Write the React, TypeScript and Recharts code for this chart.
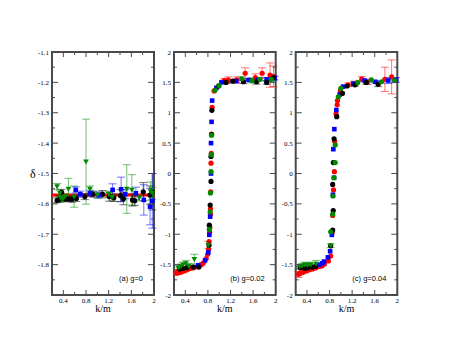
import React from "react";
import { ScatterChart, Scatter, XAxis, YAxis, ErrorBar, ReferenceArea, ReferenceLine } from "recharts";

type Pt = [number, number, number]; // [k/m, delta, error]

const RED = "#ff0000";
const BLACK = "#000000";
const BLUE = "#0000ff";
const GREEN = "#008a00";
const FRAME = "#4a4a4a";

// axis ticks
const xTicks = [0.4, 0.6, 0.8, 1.0, 1.2, 1.4, 1.6, 1.8, 2.0];
const xLabels = [0.4, 0.8, 1.2, 1.6, 2];
const aYTicks = [-1.85, -1.8, -1.75, -1.7, -1.65, -1.6, -1.55, -1.5, -1.45, -1.4, -1.35, -1.3, -1.25, -1.2, -1.15, -1.1];
const aYLabels = [-1.8, -1.7, -1.6, -1.5, -1.4, -1.3, -1.2, -1.1];
const bcYTicks = [-2, -1.75, -1.5, -1.25, -1, -0.75, -0.5, -0.25, 0, 0.25, 0.5, 0.75, 1, 1.25, 1.5, 1.75, 2];
const bcYLabels = [-2, -1.5, -1, -0.5, 0, 0.5, 1, 1.5, 2];

// (a) g=0
const aLine = -1.571;
const aBlack: Pt[] = [
  [0.29, -1.588, 0.008], [0.33, -1.585, 0.01], [0.37, -1.562, 0.01], [0.43, -1.584, 0.008], [0.49, -1.584, 0.008],
  [0.55, -1.585, 0.01], [0.63, -1.582, 0.01], [0.78, -1.576, 0.01], [0.92, -1.568, 0.01], [1.09, -1.568, 0.012],
  [1.21, -1.576, 0.015], [1.29, -1.58, 0.012], [1.41, -1.573, 0.02], [1.46, -1.583, 0.02], [1.62, -1.587, 0.02],
  [1.66, -1.59, 0.015], [1.81, -1.56, 0.03], [1.93, -1.571, 0.03], [1.97, -1.56, 0.06],
];
const aBlue: Pt[] = [
  [0.62, -1.554, 0.01], [0.7, -1.568, 0.01], [0.87, -1.565, 0.01], [1.02, -1.571, 0.01], [1.27, -1.554, 0.02],
  [1.42, -1.552, 0.04], [1.49, -1.568, 0.015], [1.68, -1.565, 0.02], [1.82, -1.587, 0.05], [1.93, -1.609, 0.06],
  [1.97, -1.59, 0.09],
];
const aGreen: Pt[] = [
  [0.29, -1.543, 0.01], [0.34, -1.565, 0.01], [0.35, -1.58, 0.01], [0.39, -1.584, 0.01], [0.43, -1.576, 0.01],
  [0.49, -1.551, 0.035], [0.59, -1.576, 0.035], [0.8, -1.461, 0.14], [0.87, -1.551, 0.01], [1.0, -1.571, 0.01],
  [1.2, -1.568, 0.01], [1.26, -1.578, 0.01], [1.52, -1.551, 0.08], [1.61, -1.554, 0.05], [1.74, -1.58, 0.01],
  [1.94, -1.558, 0.03], [1.97, -1.565, 0.02],
];

// (b) g=0.02
const bRed: Pt[] = [
  [0.25, -1.64, 0.03], [0.27, -1.61, 0.02], [0.29, -1.63, 0.02], [0.31, -1.6, 0.02], [0.33, -1.62, 0.02],
  [0.36, -1.59, 0.02], [0.39, -1.6, 0.02], [0.42, -1.58, 0.02], [0.46, -1.57, 0.02], [0.5, -1.56, 0.02],
  [0.55, -1.55, 0.02], [0.62, -1.53, 0.02], [0.68, -1.5, 0.02], [0.72, -1.47, 0], [0.77, -1.4, 0],
  [0.795, -1.33, 0], [0.81, -1.25, 0], [0.82, -1.12, 0], [0.83, -0.97, 0], [0.835, -0.89, 0],
  [0.845, -0.67, 0], [0.845, -0.58, 0], [0.85, -0.3, 0], [0.855, 0.17, 0], [0.86, 0.33, 0],
  [0.865, 0.65, 0], [0.875, 1.09, 0], [0.91, 1.36, 0], [1.09, 1.53, 0.03], [1.16, 1.54, 0.05],
  [1.31, 1.54, 0.05], [1.46, 1.65, 0.09], [1.64, 1.58, 0.06], [1.76, 1.65, 0.09], [1.9, 1.62, 0.2],
  [1.96, 1.6, 0.17],
];
const bBlack: Pt[] = [
  [0.3, -1.57, 0.02], [0.36, -1.56, 0.02], [0.43, -1.55, 0.02], [0.54, -1.54, 0.02], [0.64, -1.54, 0],
  [0.82, -1.18, 0], [0.825, -0.85, 0], [0.84, -0.52, 0], [0.855, -0.13, 0], [0.855, 0.28, 0],
  [0.865, 0.64, 0], [0.87, 1.04, 0], [0.99, 1.44, 0], [1.12, 1.5, 0.02], [1.24, 1.52, 0.02],
  [1.43, 1.51, 0.03], [1.66, 1.51, 0.04], [1.84, 1.5, 0.03], [1.96, 1.58, 0.03],
];
const bBlue: Pt[] = [
  [0.63, -1.51, 0], [0.75, -1.43, 0], [0.807, -1.3, 0], [0.825, -1.01, 0], [0.84, -0.71, 0],
  [0.855, 0.0, 0], [0.855, 0.5, 0], [0.865, 0.85, 0], [0.875, 1.2, 0], [0.95, 1.41, 0],
  [1.04, 1.5, 0], [1.3, 1.52, 0.02], [1.52, 1.54, 0.02], [1.68, 1.54, 0.02], [1.84, 1.55, 0.03],
  [1.98, 1.57, 0.03],
];
const bGreen: Pt[] = [
  [0.825, -0.92, 0], [0.84, -0.63, 0], [0.845, -0.32, 0], [0.855, 0.03, 0], [0.86, 0.31, 0],
  [0.865, 0.63, 0], [0.925, 1.37, 0], [0.996, 1.445, 0], [1.4, 1.56, 0.03], [1.58, 1.53, 0.04],
  [1.72, 1.55, 0.02], [1.92, 1.55, 0.03],
];
const bGreenLow: Pt[] = [
  [0.28, -1.55, 0.03], [0.32, -1.53, 0.04], [0.36, -1.5, 0.04], [0.41, -1.48, 0.05], [0.46, -1.52, 0.04],
  [0.56, -1.41, 0.08], [0.807, -1.18, 0.06],
];

// (c) g=0.04
const cRed: Pt[] = [
  [0.25, -1.66, 0.05], [0.28, -1.64, 0.02], [0.32, -1.63, 0.02], [0.36, -1.61, 0.02], [0.4, -1.6, 0.02],
  [0.45, -1.58, 0.02], [0.5, -1.57, 0.02], [0.56, -1.55, 0.01], [0.62, -1.53, 0], [0.67, -1.52, 0],
  [0.71, -1.49, 0], [0.78, -1.44, 0], [0.82, -1.36, 0], [0.845, -0.97, 0], [0.855, -0.69, 0],
  [0.87, -0.27, 0], [0.885, 0.03, 0], [0.89, 0.53, 0], [0.915, 0.98, 0], [0.935, 1.13, 0],
  [0.94, 1.2, 0], [0.99, 1.36, 0], [1.13, 1.46, 0.03], [1.24, 1.48, 0.04], [1.37, 1.555, 0.04],
  [1.47, 1.51, 0.04], [1.78, 1.55, 0.2], [1.9, 1.59, 0.28],
];
const cBlack: Pt[] = [
  [0.28, -1.55, 0.02], [0.31, -1.53, 0.02], [0.36, -1.56, 0.02], [0.42, -1.55, 0.02], [0.5, -1.54, 0.02],
  [0.55, -1.53, 0], [0.82, -1.19, 0], [0.855, -0.93, 0], [0.865, -0.61, 0], [0.855, -0.18, 0],
  [0.867, 0.18, 0], [0.88, 0.57, 0], [0.927, 0.935, 0], [1.03, 1.32, 0], [1.11, 1.44, 0],
  [1.25, 1.46, 0.02], [1.45, 1.5, 0.03], [1.66, 1.47, 0.04],
];
const cBlue: Pt[] = [
  [0.62, -1.5, 0], [0.67, -1.48, 0], [0.7, -1.45, 0], [0.77, -1.38, 0], [0.81, -1.28, 0],
  [0.84, -1.01, 0], [0.86, -0.35, 0], [0.879, -0.07, 0], [0.867, 0.4, 0], [0.885, 0.73, 0],
  [0.92, 1.045, 0], [0.98, 1.3, 0], [1.04, 1.43, 0], [1.22, 1.48, 0], [1.42, 1.53, 0.02],
  [1.61, 1.51, 0.02], [1.84, 1.53, 0.05], [1.98, 1.54, 0.04],
];
const cGreen: Pt[] = [
  [0.82, -0.96, 0], [0.855, -0.67, 0], [0.86, -0.37, 0], [0.879, -0.07, 0], [0.9, 0.18, 0],
  [0.9, 0.47, 0], [0.955, 1.26, 0], [1.0, 1.4, 0], [1.3, 1.5, 0], [1.54, 1.54, 0],
  [1.72, 1.51, 0], [1.95, 1.53, 0],
];
const cGreenLow: Pt[] = [
  [0.27, -1.53, 0.03], [0.31, -1.52, 0.04], [0.36, -1.5, 0.04], [0.41, -1.51, 0.04], [0.47, -1.5, 0.04],
  [0.56, -1.49, 0.06], [0.82, -1.19, 0.03],
];

const toRows = (pts: Pt[]) => pts.map(([x, y, e]) => ({ x, y, e }));

const circle = (color: string) => (p: any) => <circle cx={p.cx} cy={p.cy} r={2.6} fill={color} />;
const square = (color: string) => (p: any) => (
  <rect x={p.cx - 2.3} y={p.cy - 2.3} width={4.6} height={4.6} fill={color} />
);
const triDown = (color: string) => (p: any) => (
  <path d={`M${p.cx - 2.9},${p.cy - 2.2}L${p.cx + 2.9},${p.cy - 2.2}L${p.cx},${p.cy + 2.8}Z`} fill={color} />
);

const TOP = 52;
const BOTTOM = 295;
const TICK_FONT = "'Liberation Serif', serif";

type Series = { name: string; pts: Pt[]; color: string; shape: (p: any) => any };

type PanelProps = {
  left: number;
  width: number;
  plotLeft: number;
  plotRight: number;
  yDomain: [number, number];
  yTicks: number[];
  yLabels: number[];
  series: Series[];
  note: string;
  lineY?: number;
  showDelta?: boolean;
};

const Panel = ({ left, width, plotLeft, plotRight, yDomain, yTicks, yLabels, series, note, lineY, showDelta }: PanelProps) => {
  const yAxisW = 30;
  const pl = plotLeft - left;
  const pr = plotRight - left;
  const XTick = (p: any) => {
    const v = p.payload.value;
    const major = xLabels.includes(v);
    const len = major ? 5 : 3;
    return (
      <g>
        <line x1={p.x} x2={p.x} y1={BOTTOM} y2={BOTTOM - len} stroke={FRAME} strokeWidth={1} />
        <line x1={p.x} x2={p.x} y1={TOP} y2={TOP + len} stroke={FRAME} strokeWidth={1} />
        {major && (
          <text x={p.x} y={BOTTOM + 7.5} textAnchor="middle" fontSize={7} fontFamily={TICK_FONT} fill="#000">
            {String(v)}
          </text>
        )}
      </g>
    );
  };
  const YTick = (p: any) => {
    const v = p.payload.value;
    const major = yLabels.includes(v);
    const len = major ? 6 : 3;
    return (
      <g>
        <line x1={pl} x2={pl + len} y1={p.y} y2={p.y} stroke={FRAME} strokeWidth={1} />
        <line x1={pr} x2={pr - len} y1={p.y} y2={p.y} stroke={FRAME} strokeWidth={1} />
        {major && (
          <text x={pl - 3} y={p.y + 2.5} textAnchor="end" fontSize={7} fontFamily={TICK_FONT} fill="#000">
            {String(v)}
          </text>
        )}
      </g>
    );
  };
  return (
    <div style={{ position: "absolute", left, top: 0, width, height: 347 }}>
      <ScatterChart
        width={width}
        height={347}
        margin={{ top: TOP, right: width - pr, bottom: 347 - BOTTOM - 25, left: pl - yAxisW }}
      >
        <XAxis
          type="number"
          dataKey="x"
          domain={[0.2, 2]}
          ticks={xTicks}
          interval={0}
          tick={XTick}
          axisLine={false}
          tickLine={false}
          height={25}
          label={{ value: "k/m", position: "insideBottom", offset: 8, fontSize: 10, fontFamily: TICK_FONT, fill: "#000" }}
        />
        <YAxis
          type="number"
          dataKey="y"
          domain={yDomain}
          ticks={yTicks}
          interval={0}
          tick={YTick}
          axisLine={false}
          tickLine={false}
          width={yAxisW}
          label={
            showDelta
              ? { value: "δ", position: "insideLeft", offset: 8, fontSize: 12, fontFamily: TICK_FONT, fill: "#000" }
              : undefined
          }
        />
        <ReferenceArea x1={0.2} x2={2} y1={yDomain[0]} y2={yDomain[1]} fill="none" stroke={FRAME} strokeWidth={2} />
        {lineY !== undefined && <ReferenceLine y={lineY} stroke={RED} strokeWidth={3} />}
        {series.map((s) => (
          <Scatter key={s.name} name={s.name} data={toRows(s.pts)} fill={s.color} shape={s.shape} isAnimationActive={false}>
            <ErrorBar dataKey="e" direction="y" width={4} stroke={s.color} strokeOpacity={0.55} strokeWidth={1} />
          </Scatter>
        ))}
      </ScatterChart>
      <div
        style={{
          position: "absolute",
          right: width - pr + 11,
          top: 274,
          fontFamily: "'Liberation Sans', sans-serif",
          fontSize: 7.5,
          lineHeight: "9px",
          whiteSpace: "nowrap",
          color: "#000",
        }}
      >
        {note}
      </div>
    </div>
  );
};

const App = () => {
  return (
    <div style={{ position: "absolute", left: 0, top: 0, width: 449, height: 347, background: "#fff", overflow: "hidden" }}>
      <Panel
        left={0}
        width={170}
        plotLeft={52}
        plotRight={154}
        yDomain={[-1.9, -1.1]}
        yTicks={aYTicks}
        yLabels={aYLabels}
        lineY={aLine}
        showDelta
        note="(a) g=0"
        series={[
          { name: "black", pts: aBlack, color: BLACK, shape: circle(BLACK) },
          { name: "blue", pts: aBlue, color: BLUE, shape: square(BLUE) },
          { name: "green", pts: aGreen, color: GREEN, shape: triDown(GREEN) },
        ]}
      />
      <Panel
        left={140}
        width={150}
        plotLeft={174}
        plotRight={275.7}
        yDomain={[-2, 2]}
        yTicks={bcYTicks}
        yLabels={bcYLabels}
        note="(b) g=0.02"
        series={[
          { name: "red", pts: bRed, color: RED, shape: circle(RED) },
          { name: "blue", pts: bBlue, color: BLUE, shape: square(BLUE) },
          { name: "black", pts: bBlack, color: BLACK, shape: circle(BLACK) },
          { name: "green", pts: bGreen, color: GREEN, shape: circle(GREEN) },
          { name: "greenLow", pts: bGreenLow, color: GREEN, shape: triDown(GREEN) },
        ]}
      />
      <Panel
        left={262}
        width={160}
        plotLeft={295.7}
        plotRight={397.3}
        yDomain={[-2, 2]}
        yTicks={bcYTicks}
        yLabels={bcYLabels}
        note="(c) g=0.04"
        series={[
          { name: "red", pts: cRed, color: RED, shape: circle(RED) },
          { name: "blue", pts: cBlue, color: BLUE, shape: square(BLUE) },
          { name: "black", pts: cBlack, color: BLACK, shape: circle(BLACK) },
          { name: "green", pts: cGreen, color: GREEN, shape: circle(GREEN) },
          { name: "greenLow", pts: cGreenLow, color: GREEN, shape: triDown(GREEN) },
        ]}
      />
    </div>
  );
};

export default App;
